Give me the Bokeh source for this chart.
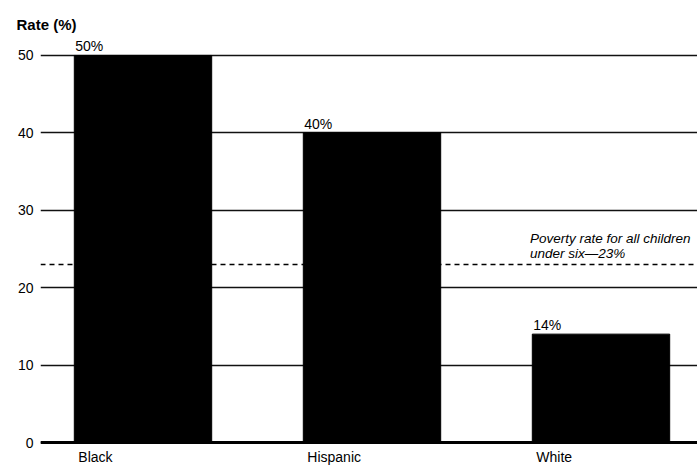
from bokeh.plotting import figure
from bokeh.models import Span, FixedTicker
from bokeh.core.properties import value
from bokeh.embed import file_html
from bokeh.resources import INLINE

# Child poverty rate by group
groups = ["Black", "Hispanic", "White"]
rates = [50, 40, 14]
rate_labels = ["50%", "40%", "14%"]
all_children_rate = 23
note_lines = ["Poverty rate for all children", "under six\u201423%"]
y_ticks = [0, 10, 20, 30, 40, 50]

positions = [1, 2, 3]
BAR_W = 0.6
FONT = "Liberation Sans"
NOTE_X = 2.69

p = figure(width=697, height=465, output_backend="svg", toolbar_location=None,
           x_range=(0.5524, 3.4214), y_range=(-2.97, 52.45),
           x_axis_location=None,
           min_border_left=40, min_border_right=0, min_border_top=36,
           min_border_bottom=0, title="Rate (%)")
p.outline_line_color = None
p.background_fill_color = "white"
p.border_fill_color = "white"

p.title.align = "left"
p.title.offset = -24
p.title.standoff = 8
p.title.text_font = FONT
p.title.text_font_style = "bold"
p.title.text_font_size = "15px"
p.title.text_color = "black"

ax = p.yaxis[0]
ax.ticker = FixedTicker(ticks=y_ticks)
ax.axis_line_color = None
ax.major_tick_line_color = None
ax.minor_tick_line_color = None
ax.major_tick_out = 0
ax.major_tick_in = 0
ax.major_label_standoff = 7
ax.major_label_text_font = FONT
ax.major_label_text_font_size = "14px"
ax.major_label_text_color = "black"

p.xgrid.visible = False
p.ygrid.ticker = FixedTicker(ticks=y_ticks)
p.ygrid.grid_line_color = "#111111"
p.ygrid.grid_line_width = 1.3

p.add_layout(Span(location=all_children_rate, dimension="width",
                  line_color="black", line_width=1.5, line_dash="5 4",
                  level="underlay"))

p.vbar(x=positions, top=rates, width=BAR_W, bottom=0, color="black")

p.add_layout(Span(location=0, dimension="width", line_color="black",
                  line_width=3))

lefts = [x - BAR_W / 2 for x in positions]

# value above each bar, flush with the bar's left edge
p.text(x=lefts, y=rates, text=rate_labels, x_offset=1, y_offset=-9,
       text_align="left", text_baseline="middle",
       text_font=value(FONT), text_font_size="14px", text_color="black")

# group names under the baseline
p.text(x=lefts, y=[0] * len(groups), text=groups, x_offset=4, y_offset=14,
       text_align="left", text_baseline="middle",
       text_font=value(FONT), text_font_size="14px", text_color="black")

p.text(x=[NOTE_X] * 2, y=[all_children_rate] * 2, text=note_lines,
       y_offset=[-26, -11], text_align="left", text_baseline="middle",
       text_font=value(FONT), text_font_style="italic",
       text_font_size="13.5px", text_color="black")

open("out.html", "w").write(file_html(p, INLINE))
